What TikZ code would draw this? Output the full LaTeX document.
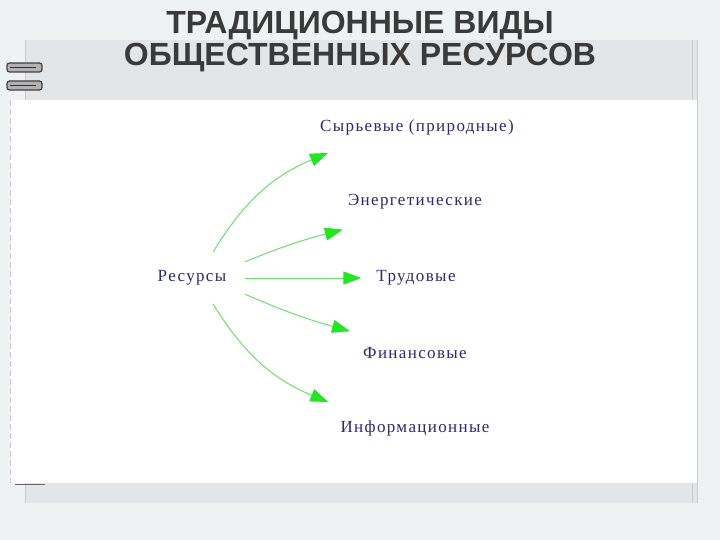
\documentclass[tikz,border=0pt]{standalone}
\usepackage{fontspec}
\setmainfont{Liberation Serif}
\newfontfamily\titlefont{Liberation Sans}
\newfontfamily\labelfont{Liberation Serif}[LetterSpace=8]
\usetikzlibrary{arrows.meta,positioning}
\definecolor{pagebg}{HTML}{EFF2F2}
\definecolor{headgray}{HTML}{E3E6E9}
\definecolor{edgegray}{HTML}{C8CCCF}
\definecolor{titlegray}{HTML}{3A3A3A}
\definecolor{labelblue}{HTML}{2A2A6E}
\definecolor{arrowgreen}{HTML}{6FDC6F}
\definecolor{tipgreen}{HTML}{22E622}
\tikzset{
  reslabel/.style={font=\labelfont\fontsize{17}{19}\selectfont, text=labelblue, inner sep=0pt},
  titleline/.style={font=\titlefont\bfseries\fontsize{32}{36}\selectfont, text=titlegray, anchor=base},
  resarrow/.style={draw=arrowgreen, line width=1pt,
    -{Triangle[length=18pt,width=13pt,color=tipgreen]}},
  ring/.style={draw=black!75, fill=black!30, line width=1.2pt, rounded corners=2.5pt}
}
\begin{document}
\begin{tikzpicture}[x=1pt, y=-1pt]
                \useasboundingbox (0,0) rectangle (720,540);
                \fill[pagebg] (0,0) rectangle (720,540);
                % notebook page
                \fill[headgray] (25,40) rectangle (697,100);
                \fill[white] (10,100) rectangle (697,483);
                \fill[headgray] (25,483) rectangle (697,503);
                \draw[edgegray, line width=0.8pt] (692,40) -- (692,100);
                \draw[edgegray, line width=0.8pt] (697,40) -- (697,503);
                \draw[edgegray, line width=0.8pt] (692,483) -- (692,503);
                \draw[edgegray, line width=0.6pt, dash pattern=on 6pt off 3pt] (10,100) -- (10,483);
                \draw[edgegray, line width=0.6pt] (25,40) -- (25,100);
                \draw[edgegray, line width=0.6pt] (25,483) -- (25,503);
                % spiral rings
                \draw[ring] (7,63) rectangle (42,72);
                \draw[black!80, line width=0.8pt] (10,67.5) -- (36,67.5);
                \draw[ring] (7,81) rectangle (42,90);
                \draw[black!80, line width=0.8pt] (10,85.5) -- (36,85.5);
                \draw[black!60, line width=1pt] (15,484) -- (45,484);
                % title
                \node[titleline] (title1) at (360,34) {ТРАДИЦИОННЫЕ ВИДЫ};
                \node[titleline] (title2) at (360,66) {ОБЩЕСТВЕННЫХ РЕСУРСОВ};
                % labels
                \node[reslabel, minimum width=106pt, minimum height=52pt] (res) at (192,278) {Ресурсы};
                \node[reslabel] (syr) at (417,127) {Сырьевые (природные)};
                \node[reslabel] (energ) at (415,202) {Энергетические};
                \node[reslabel] (trud) at (416,278) {Трудовые};
                \node[reslabel] (fin) at (415,353) {Финансовые};
                \node[reslabel] (inf) at (415,428) {Информационные};
                % arrows
                \draw[resarrow] (res.51) to[bend left=18] ([shift={(8,18)}]syr.south west);
                \draw[resarrow] (res.17) to[bend left=4] ([shift={(-5,20)}]energ.south west);
                \draw[resarrow] (res.east) -- ([xshift=-15pt]trud.west);
                \draw[resarrow] (res.-17) to[bend right=4] ([shift={(-13,-16)}]fin.north west);
                \draw[resarrow] (res.-51) to[bend right=18] ([shift={(-12,-18)}]inf.north west);
\end{tikzpicture}
\end{document}
